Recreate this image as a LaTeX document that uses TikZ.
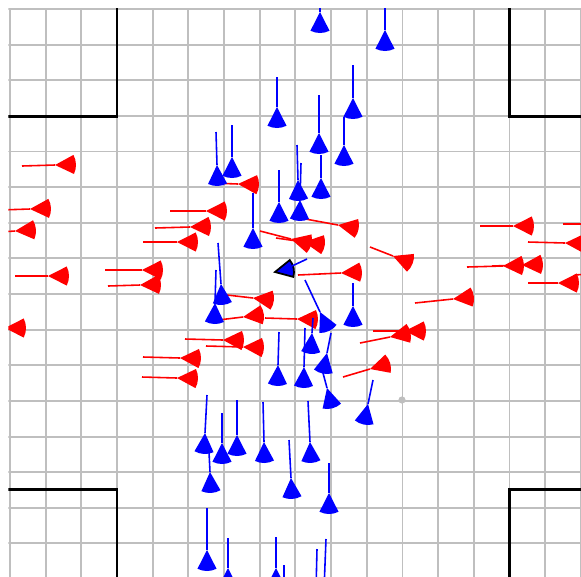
\documentclass[tikz,border=0pt]{standalone}
\usepackage{tikz}
\usetikzlibrary{calc}

% one agent: colour, tail point, apex of the wedge (pixel units, y down)
\newcommand{\car}[3]{%
  \draw[#1,trail] (#2) -- (#3);
  \fill[#1] let \p1=($(#3)-(#2)$), \n1={-atan2(\y1,\x1)} in
    (#3) -- ++(\n1-27:21) arc[start angle=\n1-27, end angle=\n1+27, radius=21] -- cycle;
}

\begin{document}
\begin{tikzpicture}[x=0.02cm,y=-0.02cm,
    gridline/.style={gray!50,line width=1.1pt},
    wall/.style={black,line width=1.7pt,line join=miter},
    trail/.style={line width=0.9pt}]
  % cell = 35.68 x 35.63 px, grid starts at (10,9)
  \def\cx{35.68}
  \def\cy{35.63}
  \fill[white](0,0) rectangle (581,576);
  \useasboundingbox(0,0) rectangle (581,576);
  \clip(8.3,8.3) rectangle (581,576);

  % grid
  \foreach \i in {0,...,16}{
    \draw[gridline]({10+\i*\cx},0)--({10+\i*\cx},600);
    \draw[gridline](0,{9+\i*\cy})--(600,{9+\i*\cy});
  }

  % kerbs of the crossing
  \draw[wall](117,0)--(117,116)--(0,116);
  \draw[wall](509,0)--(509,116)--(600,116);
  \draw[wall](0,489)--(117,489)--(117,600);
  \draw[wall](600,489)--(509,489)--(509,600);

  % goal point
  \fill[gray!50](402,400) circle (3.6);

  % red agents (eastbound)
  \car{red}{22,166}{55,165}
  \car{red}{0,210}{30,209}
  \car{red}{0,232}{15,231}
  \car{red}{15,276}{48,276}
  \car{red}{-20,328}{5,328}
  \car{red}{170,211}{206,211}
  \car{red}{155,228}{190,227}
  \car{red}{143,242}{177,242}
  \car{red}{105,270}{142,270}
  \car{red}{108,286}{140,285}
  \car{red}{210,183}{238,184}
  \car{red}{260,231}{291,239}
  \car{red}{276,238}{304,242}
  \car{red}{300,218}{338,225}
  \car{red}{298,275}{341,273}
  \car{red}{227,295}{253,298}
  \car{red}{210,321}{243,317}
  \car{red}{265,318}{297,319}
  \car{red}{185,339}{223,340}
  \car{red}{206,346}{243,347}
  \car{red}{143,357}{180,358}
  \car{red}{142,377}{177,378}
  \car{red}{370,247}{393,256}
  \car{red}{480,226}{513,226}
  \car{red}{563,224}{600,224}
  \car{red}{528,242}{565,243}
  \car{red}{467,267}{503,266}
  \car{red}{492,266}{522,265}
  \car{red}{528,283}{558,283}
  \car{red}{575,275}{600,273}
  \car{red}{415,303}{453,299}
  \car{red}{373,331}{405,331}
  \car{red}{360,343}{390,337}
  \car{red}{343,377}{370,369}

  % blue agents (southbound)
  \car{blue}{320,-10}{320,12}
  \car{blue}{385,8}{385,30}
  \car{blue}{277,77}{277,107}
  \car{blue}{353,65}{353,98}
  \car{blue}{319,95}{319,133}
  \car{blue}{344,117}{344,145}
  \car{blue}{216,132}{217,165}
  \car{blue}{232,125}{232,157}
  \car{blue}{297,145}{298,180}
  \car{blue}{301,163}{300,200}
  \car{blue}{321,155}{321,178}
  \car{blue}{279,170}{279,202}
  \car{blue}{253,193}{253,228}
  \car{blue}{218,243}{221,284}
  \car{blue}{216,270}{215,303}
  \car{blue}{279,332}{278,365}
  \car{blue}{305,328}{304,367}
  \car{blue}{305,280}{320,312}
  \car{blue}{353,283}{353,306}
  \car{blue}{313,318}{312,333}
  \car{blue}{331,333}{327,353}
  \car{blue}{323,373}{327,388}
  \car{blue}{373,380}{368,404}
  \car{blue}{207,395}{205,433}
  \car{blue}{222,413}{222,443}
  \car{blue}{237,400}{237,435}
  \car{blue}{263,402}{264,442}
  \car{blue}{308,401}{310,442}
  \car{blue}{209,452}{210,472}
  \car{blue}{289,440}{291,478}
  \car{blue}{329,463}{329,493}
  \car{blue}{207,508}{207,550}
  \car{blue}{228,538}{228,568}
  \car{blue}{276,537}{276,568}
  \car{blue}{284,565}{284,590}
  \car{blue}{317,549}{316,590}
  \car{blue}{326,539}{324,590}

  % ego agent
  \filldraw[fill=blue,draw=black,line width=1pt]
    (275,272) -- ++(-39:19) arc[start angle=-39, end angle=15, radius=19] -- cycle;
  \draw[blue,trail](292,266)--(307,259);
\end{tikzpicture}
\end{document}
